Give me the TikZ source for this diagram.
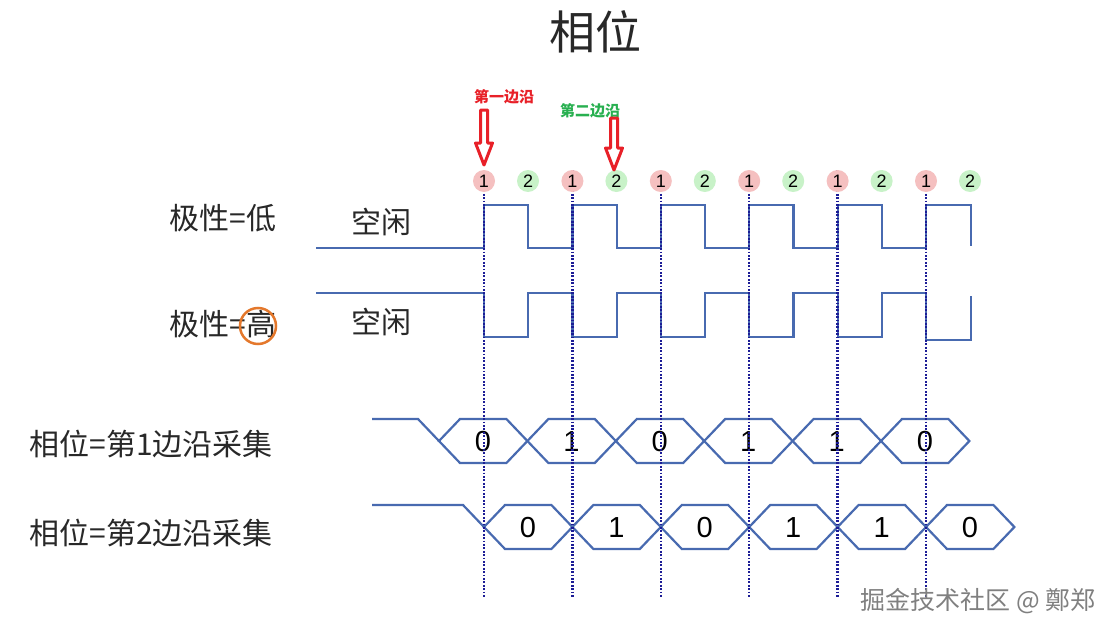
\documentclass[tikz,border=0pt]{standalone}
\usepackage{fontspec}
\setmainfont{Liberation Sans}
\newfontfamily\cjk{Noto Sans CJK SC}
\definecolor{wave}{RGB}{72,106,176}
\definecolor{probe}{RGB}{28,28,150}
\definecolor{edgeone}{RGB}{245,192,192}
\definecolor{edgetwo}{RGB}{200,242,200}
\definecolor{redlab}{RGB}{232,32,40}
\definecolor{greenlab}{RGB}{40,176,80}
\definecolor{ring}{RGB}{228,120,44}
\definecolor{mark}{RGB}{128,128,128}
\definecolor{ink}{RGB}{40,40,40}
\tikzset{
  wavy/.style={draw=wave, line width=2.2pt, line join=miter},
  probeline/.style={draw=probe, dash pattern=on 1.8pt off 1.6pt, line width=2.4pt},
  firstdot/.style={circle, fill=edgeone, minimum size=22pt, inner sep=0pt, font=\fontsize{18}{18}\selectfont},
  seconddot/.style={circle, fill=edgetwo, minimum size=22pt, inner sep=0pt, font=\fontsize{18}{18}\selectfont},
  bit/.style={font=\fontsize{29}{30}\selectfont},
  cjklabel/.style={font=\cjk\fontsize{30}{32}\selectfont, text=ink},
  edgelabel/.style={font=\cjk\bfseries\fontsize{15}{16}\selectfont},
  bigarrow/.style={draw=redlab, fill=white, line width=3pt, line join=round}
}
% hollow block arrow pointing down: x, top, tip
\newcommand\edgearrow[3]{%
  \draw[bigarrow] (#1-3.5,#2) -- (#1+3.5,#2) -- (#1+3.5,#3-22) -- (#1+8.5,#3-22)
    -- (#1,#3) -- (#1-8.5,#3-22) -- (#1-3.5,#3-22) -- cycle;}
\begin{document}
\begin{tikzpicture}[x=1pt,y=-1pt]
\useasboundingbox[fill=white] (0,0) rectangle (1114,634);

\node[font=\cjk\fontsize{46}{50}\selectfont, text=ink] (title) at (595,32) {相位};

% polarity = low
\draw[wavy] (316,248) -- (484,248);
\foreach \i in {0,...,4}
  \draw[wavy] ({484+88.4*\i},248) -- ++(0,-43) -- ++(44.2,0) -- ++(0,43) -- ++(44.2,0);
\draw[wavy] (926,248) -- (926,205) -- (971,205) -- (971,246);

% polarity = high
\draw[wavy] (316,293) -- (484,293);
\foreach \i in {0,...,4}
  \draw[wavy] ({484+88.4*\i},293) -- ++(0,44) -- ++(44.2,0) -- ++(0,-44) -- ++(44.2,0);
\draw[wavy] (926,293) -- (926,340) -- (971,340) -- (971,296);

% sampled on edge 1
\draw[wavy] (372,419) -- (418,419) -- (439,441);
\foreach \b [count=\i from 0] in {0,1,0,1,1,0} {
  \draw[wavy] ({439+88.4*\i},441) -- ++(21,-22) -- ++(46.4,0) -- ++(21,22)
    -- ++(-21,22) -- ++(-46.4,0) -- cycle;
  \node[bit] (a\i) at ({483+88.4*\i},442) {\b};
}

% sampled on edge 2
\draw[wavy] (372,505) -- (463,505) -- (484,527);
\foreach \b [count=\i from 0] in {0,1,0,1,1,0} {
  \draw[wavy] ({484+88.4*\i},527) -- ++(21,-22) -- ++(46.4,0) -- ++(21,22)
    -- ++(-21,22) -- ++(-46.4,0) -- cycle;
  \node[bit] (b\i) at ({528+88.4*\i},528) {\b};
}

% sampling instants
\foreach \i in {0,...,5}
  \draw[probeline] ({484+88.4*\i},170) -- ({484+88.4*\i},597);
\foreach \i in {0,...,5} {
  \node[firstdot] (one\i) at ({484+88.4*\i},181) {1};
  \node[seconddot] (two\i) at ({528+88.4*\i},181) {2};
}

\node[edgelabel, text=redlab] (firstedge) at (504,97) {第一边沿};
\node[edgelabel, text=greenlab] (secondedge) at (590,111) {第二边沿};
\edgearrow{484}{110}{165}
\edgearrow{614}{118}{170}

\node[cjklabel, anchor=west] (low) at (166,218) {极性=低};
\node[cjklabel, anchor=west] (high) at (166,324) {极性=高};
\draw[ring, line width=2.5pt] (258,326) circle (18);
\node[cjklabel] (idlea) at (381,222) {空闲};
\node[cjklabel] (idleb) at (381,322) {空闲};
\node[cjklabel, anchor=west] (phaseone) at (26,444) {相位=第1边沿采集};
\node[cjklabel, anchor=west] (phasetwo) at (26,533) {相位=第2边沿采集};

\node[font=\cjk\fontsize{25}{26}\selectfont, text=mark] (credit) at (978,601) {掘金技术社区 @ 鄭郑};
\end{tikzpicture}
\end{document}
